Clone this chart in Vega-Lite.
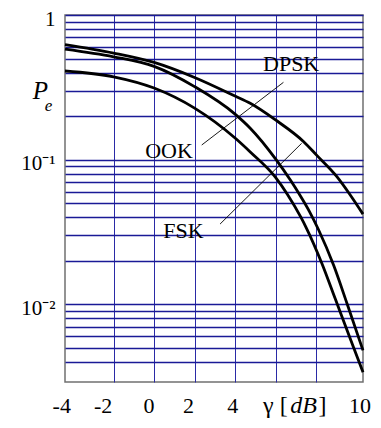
{
  "$schema": "https://vega.github.io/schema/vega-lite/v6.json",
  "width": 298,
  "height": 367,
  "autosize": {"type": "none"},
  "padding": {"left": 65, "top": 15, "right": 18, "bottom": 46},
  "background": "white",
  "config": {"view": {"stroke": "#707070", "strokeWidth": 1.5}, "font": "Liberation Serif, Times New Roman, serif"},
  "datasets": {
    "curves": [
      {"s": "A", "x": -4.4, "y": 0.625}, {"s": "A", "x": -2, "y": 0.546}, {"s": "A", "x": 0, "y": 0.47},
      {"s": "A", "x": 2, "y": 0.37}, {"s": "A", "x": 4, "y": 0.275}, {"s": "A", "x": 4.75, "y": 0.245},
      {"s": "A", "x": 6, "y": 0.188}, {"s": "A", "x": 7.39, "y": 0.133}, {"s": "A", "x": 8.04, "y": 0.107},
      {"s": "A", "x": 9.04, "y": 0.076}, {"s": "A", "x": 9.69, "y": 0.057}, {"s": "A", "x": 10.32, "y": 0.042},
      {"s": "B", "x": -4.4, "y": 0.581}, {"s": "B", "x": -2, "y": 0.514}, {"s": "B", "x": 0, "y": 0.4416},
      {"s": "B", "x": 2, "y": 0.3199}, {"s": "B", "x": 4, "y": 0.2065}, {"s": "B", "x": 4.75, "y": 0.165},
      {"s": "B", "x": 6, "y": 0.1012}, {"s": "B", "x": 6.74, "y": 0.0719}, {"s": "B", "x": 7.17, "y": 0.0578},
      {"s": "B", "x": 7.67, "y": 0.0439}, {"s": "B", "x": 8.13, "y": 0.0326}, {"s": "B", "x": 8.87, "y": 0.01858},
      {"s": "B", "x": 9.53, "y": 0.01012}, {"s": "B", "x": 10.32, "y": 0.0048},
      {"s": "C", "x": -4.4, "y": 0.41}, {"s": "C", "x": -2, "y": 0.374}, {"s": "C", "x": 0, "y": 0.3126},
      {"s": "C", "x": 2, "y": 0.227}, {"s": "C", "x": 4, "y": 0.141}, {"s": "C", "x": 4.75, "y": 0.113},
      {"s": "C", "x": 6, "y": 0.0755}, {"s": "C", "x": 6.59, "y": 0.0575}, {"s": "C", "x": 7.25, "y": 0.04},
      {"s": "C", "x": 7.5, "y": 0.0342}, {"s": "C", "x": 8.3, "y": 0.019}, {"s": "C", "x": 8.95, "y": 0.0109},
      {"s": "C", "x": 9.86, "y": 0.00501}, {"s": "C", "x": 10.32, "y": 0.00339}
    ],
    "leaders": [
      {"x": 6.39, "y": 0.3424, "x2": 2.354, "y2": 0.1262},
      {"x": 7.29, "y": 0.1297, "x2": 3.26, "y2": 0.03585}
    ],
    "names": [
      {"t": "DPSK", "x": 6.77, "y": 0.458},
      {"t": "OOK", "x": 0.74, "y": 0.1156},
      {"t": "FSK", "x": 1.445, "y": 0.0322}
    ],
    "pP": [{"t": "P", "x": -5.62, "y": 0.2625}],
    "pe": [{"t": "e", "x": -5.22, "y": 0.218}],
    "xticks": [
      {"t": "-4", "x": -4.56, "y": 0.00177},
      {"t": "-2", "x": -2.52, "y": 0.00177},
      {"t": "0", "x": -0.25, "y": 0.00177},
      {"t": "2", "x": 1.7, "y": 0.00177},
      {"t": "4", "x": 3.88, "y": 0.00177},
      {"t": "10", "x": 10.17, "y": 0.00177}
    ],
    "gam": [{"t": "γ [", "x": 6.6, "y": 0.00177}],
    "db": [{"t": "dB", "x": 7.38, "y": 0.00177}],
    "rb": [{"t": "]", "x": 8.12, "y": 0.00177}]
  },
  "encoding": {
    "x": {"field": "x", "type": "quantitative", "scale": {"domain": [-4.4, 10.32], "nice": false, "zero": false},
      "axis": {"values": [-2, 0, 2, 4, 6, 8], "grid": true, "gridColor": "#2a2aa6", "gridWidth": 1, "gridOpacity": 1, "labels": false, "ticks": false, "domain": false, "title": null}},
    "y": {"field": "y", "type": "quantitative", "scale": {"type": "log", "domain": [0.0029, 1], "nice": false},
      "axis": {"values": [1, 0.9, 0.8, 0.7, 0.6, 0.5, 0.4, 0.3, 0.2, 0.1, 0.09, 0.08, 0.07, 0.06, 0.05, 0.04, 0.03, 0.02, 0.01, 0.009, 0.008, 0.007, 0.006, 0.005, 0.004],
        "grid": true, "gridColor": "#1a1a96", "gridWidth": 1.3, "gridOpacity": 1, "ticks": false, "domain": false, "title": null,
        "labelExpr": "datum.value == 1 ? '1\u00a0\u00a0' : (datum.value == 0.1 ? '10⁻¹' : (datum.value == 0.01 ? '10⁻²' : ''))",
        "labelFont": "Liberation Serif, Times New Roman, serif", "labelFontSize": 21, "labelColor": "black", "labelPadding": 10,
        "labelBaseline": "alphabetic", "labelOffset": 10, "labelOverlap": false, "labelBound": false, "labelFlush": false}}
  },
  "layer": [
    {
      "data": {"name": "curves"},
      "mark": {"type": "line", "color": "black", "strokeWidth": 2.8, "interpolate": "monotone"},
      "encoding": {"detail": {"field": "s"}}
    },
    {
      "data": {"name": "leaders"},
      "mark": {"type": "rule", "color": "black", "strokeWidth": 0.9},
      "encoding": {"x2": {"field": "x2"}, "y2": {"field": "y2"}}
    },
    {
      "data": {"name": "names"},
      "mark": {"type": "text", "font": "Liberation Serif, Times New Roman, serif", "fontSize": 22, "align": "center", "baseline": "middle", "color": "black"},
      "encoding": {"text": {"field": "t"}}
    },
    {
      "data": {"name": "pP"},
      "mark": {"type": "text", "font": "Liberation Serif, Times New Roman, serif", "fontSize": 25, "fontStyle": "italic", "align": "center", "baseline": "alphabetic", "color": "black"},
      "encoding": {"text": {"field": "t"}}
    },
    {
      "data": {"name": "pe"},
      "mark": {"type": "text", "font": "Liberation Serif, Times New Roman, serif", "fontSize": 17, "fontStyle": "italic", "align": "center", "baseline": "alphabetic", "color": "black"},
      "encoding": {"text": {"field": "t"}}
    },
    {
      "data": {"name": "xticks"},
      "mark": {"type": "text", "font": "Liberation Serif, Times New Roman, serif", "fontSize": 22, "align": "center", "baseline": "alphabetic", "color": "black"},
      "encoding": {"text": {"field": "t"}}
    },
    {
      "data": {"name": "gam"},
      "mark": {"type": "text", "font": "Liberation Serif, Times New Roman, serif", "fontSize": 24, "align": "right", "baseline": "alphabetic", "color": "black"},
      "encoding": {"text": {"field": "t"}}
    },
    {
      "data": {"name": "db"},
      "mark": {"type": "text", "font": "Liberation Serif, Times New Roman, serif", "fontSize": 24, "fontStyle": "italic", "align": "center", "baseline": "alphabetic", "color": "black"},
      "encoding": {"text": {"field": "t"}}
    },
    {
      "data": {"name": "rb"},
      "mark": {"type": "text", "font": "Liberation Serif, Times New Roman, serif", "fontSize": 24, "align": "left", "baseline": "alphabetic", "color": "black"},
      "encoding": {"text": {"field": "t"}}
    }
  ]
}
